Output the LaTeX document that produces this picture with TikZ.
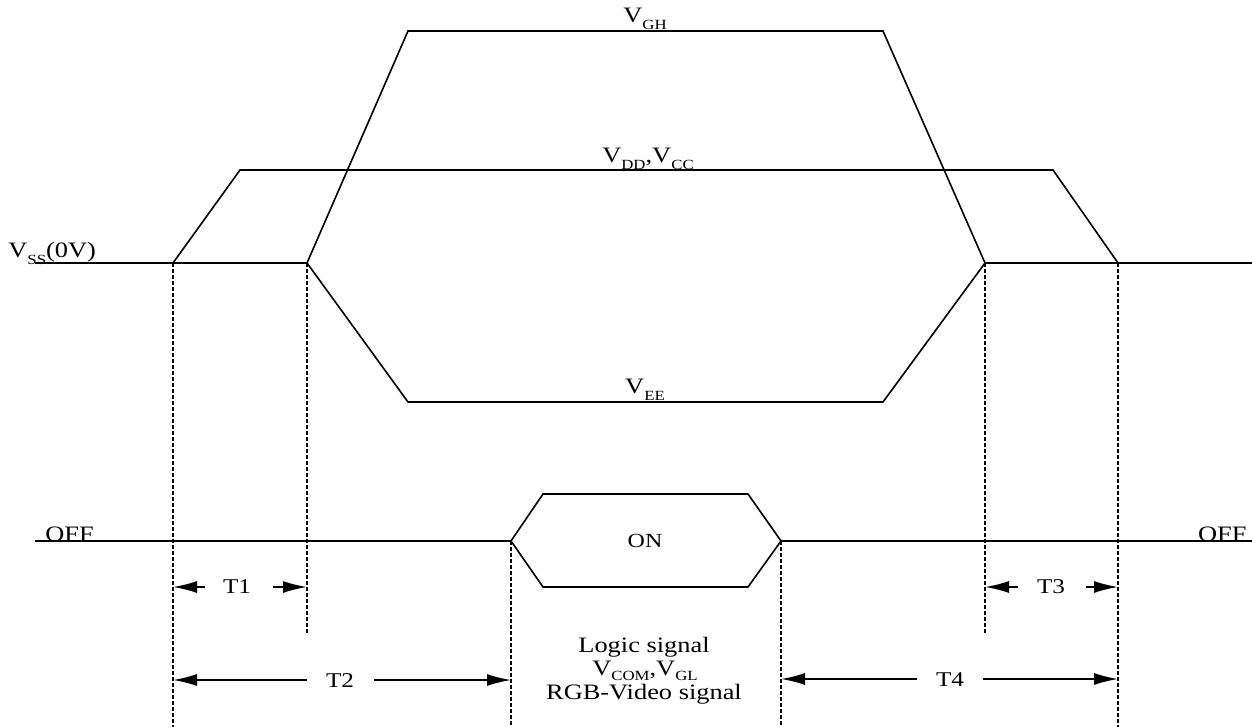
\documentclass[tikz,border=0pt]{standalone}
\usepackage{fontspec}
\setmainfont[FakeStretch=1.2]{Liberation Serif}
\usetikzlibrary{arrows.meta}
\newcommand\lsub[1]{\raisebox{-3.5pt}{\fontsize{7}{8}\selectfont #1}}
\newcommand\lsubb[1]{\raisebox{-2.8pt}{\fontsize{7}{8}\selectfont #1}}
\begin{document}
\begin{tikzpicture}[x=0.5pt,y=-0.5pt,
  sig/.style={line width=0.8pt, line join=miter},
  guide/.style={line width=0.6pt, dash pattern=on 2pt off 1pt},
  dim/.style={line width=0.8pt,-{Latex[length=12pt,width=6pt]}},
  vlbl/.style={font=\fontsize{11}{12}\selectfont, inner sep=0pt, anchor=base},
  tlbl/.style={font=\fontsize{10.5}{12}\selectfont, inner sep=0pt, anchor=base}]
\useasboundingbox (0,0) rectangle (1252,727);

% key coordinates
\coordinate (Lend) at (35,263);
\coordinate (Rend) at (1252,263);
\coordinate (d1) at (173,263);
\coordinate (d1t) at (240,170);
\coordinate (d2t) at (1053,170);
\coordinate (d2) at (1118,263);
\coordinate (g1) at (307,263);
\coordinate (gh1) at (408,31);
\coordinate (gh2) at (883,31);
\coordinate (g2) at (985,263);
\coordinate (ee1) at (408,402);
\coordinate (ee2) at (883,402);

% power rails
\draw[sig] (Lend) -- (d1) -- (d1t) -- (d2t) -- (d2) -- (Rend);
\draw[sig] (d1) -- (g1) -- (gh1) -- (gh2) -- (g2) -- (d2);
\draw[sig] (g1) -- (ee1) -- (ee2) -- (g2);

% logic signal
\coordinate (oL) at (35,541);
\coordinate (oR) at (1252,541);
\coordinate (on1) at (511,541);
\coordinate (on2) at (781,541);
\draw[sig] (oL) -- (on1) -- (543,494) -- (748,494) -- (on2) -- (oR);
\draw[sig] (on1) -- (543,587) -- (748,587) -- (on2);

% guide lines
\coordinate (b1) at (173,727);
\coordinate (b2) at (307,633);
\coordinate (b3) at (511,727);
\coordinate (b4) at (781,727);
\coordinate (b5) at (985,633);
\coordinate (b6) at (1118,727);
\draw[guide] (d1) -- (b1);
\draw[guide] (g1) -- (b2);
\draw[guide] (on1) -- (b3);
\draw[guide] (on2) -- (b4);
\draw[guide] (g2) -- (b5);
\draw[guide] (d2) -- (b6);

% labels
\node[vlbl] (vgh) at (645,23) {V\lsub{GH}};
\node[vlbl] (vdd) at (648,163) {V\lsub{DD},V\lsub{CC}};
\node[vlbl] (vee) at (645,393) {V\lsub{EE}};
\node[vlbl, anchor=base west] (vss) at (8,257) {V\lsub{SS}(0V)};
\node[vlbl, anchor=base west] (offl) at (45,541) {OFF};
\node[vlbl, anchor=base east] (offr) at (1247,541) {OFF};
\node[tlbl, font=\fontsize{10}{12}\selectfont] (on) at (645,547) {ON};
\node[vlbl] (logic) at (644,652) {Logic signal};
\node[vlbl] (vcom) at (645,675) {V\lsubb{COM},V\lsubb{GL}};
\node[vlbl] (rgb) at (644,699) {RGB-Video signal};

% timing dimensions
\node[tlbl] (t1) at (237,593) {T1};
\node[tlbl] (t2) at (340,687) {T2};
\node[tlbl] (t3) at (1051,593) {T3};
\node[tlbl] (t4) at (950,686) {T4};

\coordinate (t1a) at (205,587); \coordinate (t1at) at (173,587);
\coordinate (t1b) at (273,587); \coordinate (t1bt) at (307,587);
\draw[dim] (t1a) -- (t1at);
\draw[dim] (t1b) -- (t1bt);

\coordinate (t3a) at (1018,587); \coordinate (t3at) at (985,587);
\coordinate (t3b) at (1086,587); \coordinate (t3bt) at (1118,587);
\draw[dim] (t3a) -- (t3at);
\draw[dim] (t3b) -- (t3bt);

\coordinate (t2a) at (307,680); \coordinate (t2at) at (173,680);
\coordinate (t2b) at (374,680); \coordinate (t2bt) at (511,680);
\draw[dim] (t2a) -- (t2at);
\draw[dim] (t2b) -- (t2bt);

\coordinate (t4a) at (917,679); \coordinate (t4at) at (781,679);
\coordinate (t4b) at (983,679); \coordinate (t4bt) at (1118,679);
\draw[dim] (t4a) -- (t4at);
\draw[dim] (t4b) -- (t4bt);
\end{tikzpicture}
\end{document}
